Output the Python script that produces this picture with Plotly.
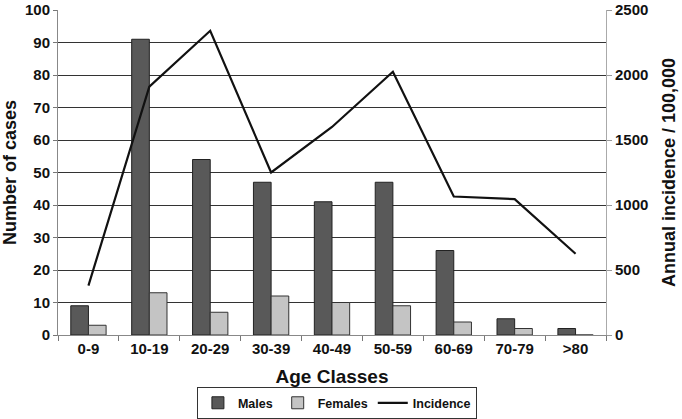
import plotly.graph_objects as go

age_classes = ["0-9", "10-19", "20-29", "30-39", "40-49", "50-59", "60-69", "70-79", ">80"]
males = [9, 91, 54, 47, 41, 47, 26, 5, 2]
females = [3, 13, 7, 12, 10, 9, 4, 2, 0]
incidence = [380, 1910, 2340, 1250, 1600, 2025, 1065, 1045, 625]

font_family = "Liberation Sans, Arial, sans-serif"

fig = go.Figure()

fig.add_trace(go.Bar(
    x=age_classes, y=males, name="Males",
    marker=dict(color="#595959", line=dict(color="#222222", width=1)),
))
fig.add_trace(go.Bar(
    x=age_classes, y=females, name="Females",
    marker=dict(color="#c4c4c4", line=dict(color="#333333", width=1)),
))
fig.add_trace(go.Scatter(
    x=age_classes, y=incidence, name="Incidence", yaxis="y2",
    mode="lines", line=dict(color="#111111", width=2.2),
))

fig.update_layout(
    width=682, height=419,
    margin=dict(l=58, r=76, t=10, b=84, autoexpand=False),
    plot_bgcolor="white", paper_bgcolor="white",
    barmode="group", bargap=0.42, bargroupgap=0,
    font=dict(family=font_family, size=15, color="#111111"),
    xaxis=dict(
        type="category", range=[-0.5, 8.5], automargin=False,
        tickson="boundaries", ticks="outside", ticklen=5, tickcolor="#777777",
        showline=True, linecolor="#888888", linewidth=1,
        tickfont=dict(family=font_family, size=15, weight="bold"),
        title=dict(text="<b>Age Classes</b>", font=dict(size=19)),
        showgrid=False,
    ),
    yaxis=dict(
        range=[0, 100], dtick=10, automargin=False,
        showgrid=True, gridcolor="#333333", gridwidth=1,
        showline=True, linecolor="#888888", linewidth=1,
        ticks="outside", ticklen=4, tickcolor="#777777",
        tickfont=dict(family=font_family, size=15, weight="bold"),
        title=dict(text="<b>Number of cases</b>", font=dict(size=18)),
        zeroline=False,
    ),
    yaxis2=dict(
        overlaying="y", side="right", automargin=False,
        range=[0, 2500], dtick=500,
        showgrid=False, zeroline=False,
        showline=True, linecolor="#aaaaaa", linewidth=1,
        ticks="outside", ticklen=5, tickcolor="#999999",
        tickfont=dict(family=font_family, size=15, weight="bold"),
        title=dict(text="<b>Annual incidence / 100,000</b>", font=dict(size=18)),
    ),
    legend=dict(
        orientation="h", x=0.494, xanchor="center", xref="container",
        y=0.076, yanchor="top", yref="container",
        bordercolor="#333333", borderwidth=1,
        font=dict(family=font_family, size=12.5, weight="bold"),
        itemwidth=30, traceorder="normal",
    ),
)

# page body has a default 8px margin; drop it so the figure sits at the top-left corner
fig.write_html("out.html", config={"displayModeBar": False},
               post_script="document.body.style.margin='0';")
